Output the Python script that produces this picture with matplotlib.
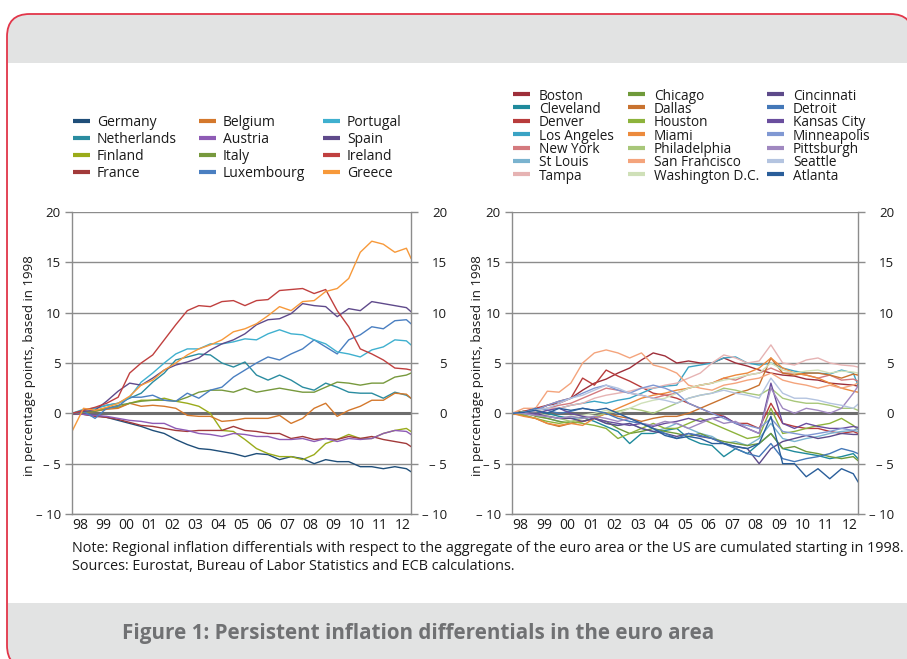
import matplotlib
matplotlib.use('Agg')
import matplotlib.pyplot as plt
from matplotlib.lines import Line2D
from matplotlib.patches import FancyBboxPatch, Rectangle

plt.rcParams['font.family'] = ['Open Sans', 'DejaVu Sans']

# sampling dates (half-yearly readings)
dates = [1998.0, 1998.5, 1999.0, 1999.5, 2000.0, 2000.5, 2001.0, 2001.5, 2002.0, 2002.5,
         2003.0, 2003.5, 2004.0, 2004.5, 2005.0, 2005.5, 2006.0, 2006.5, 2007.0, 2007.5,
         2008.0, 2008.5, 2009.0, 2009.5, 2010.0, 2010.5, 2011.0, 2011.5, 2012.0, 2012.5, 2012.7]

# ---- euro area countries ----
germany = [0.0, -0.1, -0.2, -0.4, -0.7, -1.0, -1.3, -1.7, -2.0, -2.6,
           -3.1, -3.5, -3.6, -3.8, -4.0, -4.3, -4.0, -4.1, -4.6, -4.3,
           -4.5, -5.0, -4.6, -4.8, -4.8, -5.3, -5.3, -5.5, -5.3, -5.5, -5.8]
netherlands = [0.0, 0.3, 0.5, 0.8, 1.0, 1.5, 2.0, 3.1, 4.0, 5.3,
               5.6, 5.9, 5.8, 5.0, 4.6, 5.1, 3.8, 3.3, 3.8, 3.3,
               2.6, 2.3, 3.0, 2.6, 2.1, 2.0, 2.0, 1.5, 2.1, 1.8, 1.5]
finland = [0.0, 0.1, 0.3, 0.5, 0.6, 1.0, 1.3, 1.3, 1.5, 1.2,
           1.0, 0.7, 0.0, -1.7, -1.8, -2.6, -3.5, -4.0, -4.3, -4.3,
           -4.6, -4.1, -3.0, -2.6, -2.1, -2.5, -2.5, -2.0, -1.7, -1.5, -1.8]
france = [0.0, -0.1, -0.3, -0.4, -0.6, -0.9, -1.2, -1.3, -1.5, -1.7,
          -1.8, -1.7, -1.7, -1.7, -1.3, -1.7, -1.8, -2.0, -2.0, -2.5,
          -2.3, -2.6, -2.5, -2.6, -2.3, -2.5, -2.3, -2.6, -2.8, -3.0, -3.3]
belgium = [0.0, 0.1, 0.2, 0.4, 0.5, 1.0, 0.7, 0.8, 0.7, 0.5,
           -0.2, -0.3, -0.3, -0.8, -0.7, -0.5, -0.5, -0.5, -0.2, -1.0,
           -0.5, 0.5, 1.0, -0.3, 0.3, 0.7, 1.3, 1.3, 2.0, 1.9, 1.5]
austria = [0.0, -0.1, -0.2, -0.3, -0.5, -0.7, -0.8, -1.0, -1.0, -1.5,
           -1.7, -2.0, -2.1, -2.3, -2.0, -2.1, -2.3, -2.3, -2.6, -2.6,
           -2.5, -2.8, -2.5, -2.8, -2.5, -2.6, -2.5, -2.0, -1.7, -1.8, -2.1]
italy = [0.0, 0.1, 0.2, 0.5, 0.8, 1.0, 1.2, 1.3, 1.3, 1.2,
         1.6, 2.1, 2.3, 2.3, 2.1, 2.5, 2.1, 2.3, 2.5, 2.3,
         2.1, 2.1, 2.6, 3.1, 3.0, 2.8, 3.0, 3.0, 3.6, 3.8, 4.0]
luxembourg = [0.0, 0.2, -0.5, 0.5, 0.7, 1.6, 1.6, 1.8, 1.3, 1.2,
              2.0, 1.5, 2.3, 2.6, 3.6, 4.3, 5.0, 5.6, 5.3, 5.9,
              6.4, 7.3, 6.6, 5.9, 7.3, 7.8, 8.6, 8.4, 9.2, 9.3, 8.9]
portugal = [0.0, 0.4, 0.5, 0.8, 1.0, 1.6, 3.1, 4.0, 5.0, 5.9,
            6.4, 6.4, 6.9, 6.9, 7.1, 7.4, 7.3, 7.9, 8.3, 7.9,
            7.8, 7.3, 6.9, 6.1, 5.9, 5.6, 6.3, 6.6, 7.3, 7.2, 6.8]
spain = [0.0, 0.2, 0.3, 1.2, 2.2, 3.0, 2.8, 3.5, 4.3, 4.8,
         5.1, 5.5, 6.3, 6.9, 7.3, 7.9, 8.8, 9.3, 9.4, 9.9,
         10.9, 10.7, 10.6, 9.6, 10.4, 10.2, 11.1, 10.9, 10.7, 10.5, 10.1]
ireland = [0.0, 0.3, 0.6, 1.0, 1.6, 4.0, 5.0, 5.8, 7.3, 8.8,
           10.2, 10.7, 10.6, 11.1, 11.2, 10.7, 11.2, 11.3, 12.2, 12.3,
           12.4, 11.9, 12.3, 10.2, 8.6, 6.4, 5.9, 5.3, 4.5, 4.4, 4.3]
greece = [-1.8, 0.5, 0.3, 0.6, 1.0, 1.7, 2.8, 3.3, 4.3, 5.0,
          5.8, 6.4, 6.8, 7.3, 8.1, 8.4, 8.9, 9.7, 10.6, 10.2,
          11.1, 11.2, 12.1, 12.4, 13.4, 16.0, 17.1, 16.8, 16.0, 16.4, 15.4]

# ---- US cities ----
boston = [0.0, 0.2, 0.3, 0.8, 1.0, 1.5, 2.3, 3.0, 3.4, 4.0,
          4.5, 5.3, 6.0, 5.7, 5.0, 5.2, 5.0, 5.0, 5.5, 5.0,
          4.7, 4.3, 4.0, 3.8, 3.7, 3.4, 3.3, 3.0, 2.9, 2.8, 2.7]
cleveland = [0.0, -0.1, 0.2, 0.0, -0.3, -0.5, -0.4, -0.8, -1.3, -1.8,
             -3.0, -2.0, -2.0, -1.7, -1.5, -2.5, -3.0, -3.2, -4.3, -3.5,
             -4.0, -3.0, -2.0, -3.5, -3.8, -4.0, -4.2, -4.5, -4.3, -4.0, -4.5]
denver = [0.0, 0.2, 0.5, 0.8, 1.2, 1.5, 3.5, 2.8, 4.3, 3.7,
          3.2, 2.6, 2.0, 1.8, 1.5, 1.0, 0.5, 0.0, -0.3, -1.0,
          -1.0, -1.5, 1.0, -1.0, -1.3, -1.5, -1.5, -1.8, -2.0, -1.8, -2.0]
los_angeles = [0.0, 0.0, 0.3, 0.5, 0.5, 0.8, 1.0, 1.2, 1.0, 1.3,
               1.5, 2.0, 2.5, 2.7, 2.8, 4.6, 4.8, 5.0, 5.5, 5.6,
               5.0, 4.8, 5.0, 4.5, 4.2, 4.0, 4.0, 3.9, 4.3, 4.0, 2.8]
new_york = [0.0, 0.1, 0.3, 0.5, 0.8, 1.0, 1.5, 2.0, 2.5, 2.3,
            2.0, 1.8, 1.5, 1.8, 2.0, 2.5, 2.8, 3.0, 3.5, 3.3,
            3.8, 4.0, 4.5, 4.0, 4.0, 3.8, 3.5, 3.8, 3.3, 3.4, 3.2]
st_louis = [0.0, -0.1, -0.2, -0.5, -0.8, -1.0, -0.8, -0.5, -1.0, -1.2,
            -1.0, -1.5, -1.8, -1.5, -1.0, -1.5, -2.0, -2.3, -3.0, -2.8,
            -3.2, -2.5, -1.0, -2.5, -2.8, -2.5, -2.3, -2.0, -1.8, -1.7, -1.8]
tampa = [0.0, 0.1, 0.2, 0.5, 0.5, 0.8, 1.0, 1.5, 1.8, 2.0,
         2.2, 2.5, 2.5, 2.8, 3.0, 3.5, 4.0, 5.0, 5.8, 5.5,
         5.0, 5.2, 6.8, 5.0, 4.8, 5.3, 5.5, 5.0, 4.8, 4.7, 4.6]
chicago = [0.0, 0.2, -0.3, -0.5, -0.8, -1.0, -0.8, -0.5, -0.8, -1.5,
           -2.0, -1.8, -1.5, -1.8, -2.0, -2.3, -2.0, -2.5, -2.8, -3.0,
           -3.2, -3.0, -2.0, -3.5, -3.3, -3.8, -4.0, -4.3, -4.5, -4.3, -4.7]
dallas = [0.0, -0.2, -0.5, -1.0, -1.3, -1.0, -0.8, -0.5, 0.0, -0.3,
          -0.5, -0.8, -0.5, -0.3, -0.3, 0.0, 0.5, 1.0, 1.5, 2.0,
          2.3, 2.8, 5.5, 4.0, 3.8, 4.0, 4.0, 3.8, 3.5, 3.9, 3.8]
houston = [0.0, -0.2, -0.5, -0.8, -1.0, -0.8, -1.0, -1.2, -1.5, -2.5,
           -2.0, -1.5, -1.0, -1.5, -1.5, -1.0, -0.5, -1.0, -1.5, -2.0,
           -2.5, -2.3, 0.5, -2.0, -1.8, -1.5, -1.2, -1.0, -0.5, -1.2, -1.6]
miami = [0.0, -0.3, -0.5, -1.0, -1.2, -1.0, -1.2, -0.5, 0.0, 0.5,
         1.0, 1.5, 1.8, 2.0, 2.3, 2.5, 2.8, 3.0, 3.5, 3.8,
         4.0, 4.5, 5.5, 4.5, 4.0, 3.8, 3.5, 3.0, 2.5, 2.2, 2.1]
philadelphia = [0.0, 0.0, -0.2, -0.3, -0.5, -0.8, -0.5, -0.3, 0.0, 0.2,
                0.5, 0.3, 0.0, 0.5, 1.0, 1.5, 1.8, 2.0, 2.5, 2.3,
                2.0, 1.8, 2.5, 1.5, 1.2, 1.0, 1.0, 0.8, 0.5, 0.5, 0.3]
san_francisco = [0.0, 0.5, 0.5, 2.2, 2.1, 3.0, 5.0, 6.0, 6.3, 6.0,
                 5.5, 6.0, 4.8, 4.5, 4.0, 2.8, 2.5, 2.3, 2.8, 3.0,
                 3.3, 3.5, 4.0, 3.3, 3.0, 2.8, 2.5, 2.8, 2.5, 2.8, 3.0]
washington = [0.0, 0.1, 0.0, -0.2, -0.5, -0.3, -0.2, 0.0, 0.3, 0.0,
              0.5, 1.0, 1.3, 1.5, 2.0, 2.5, 2.8, 3.0, 3.3, 3.5,
              3.8, 4.0, 5.0, 4.3, 4.0, 4.2, 4.3, 4.0, 4.2, 4.1, 4.0]
cincinnati = [0.0, 0.1, 0.0, -0.3, -0.5, -0.5, -0.8, -0.5, -1.0, -1.2,
              -1.0, -1.5, -1.8, -2.0, -2.3, -2.0, -2.3, -2.5, -3.0, -3.3,
              -3.5, -5.0, -3.5, -2.8, -2.5, -2.2, -2.5, -2.3, -2.0, -2.1, -2.1]
detroit = [0.0, 0.1, 0.5, 0.3, 0.0, 0.2, 0.5, 0.3, 0.0, -0.5,
           -0.8, -1.0, -1.5, -2.0, -2.5, -2.0, -2.2, -2.5, -3.0, -3.5,
           -4.0, -4.3, -3.0, -4.5, -4.8, -4.5, -4.3, -4.0, -3.5, -3.8, -4.0]
kansas_city = [0.0, 0.0, -0.1, 0.3, 0.5, 0.0, -0.3, -0.5, -0.8, -1.0,
               -1.2, -1.0, -1.3, -1.0, -0.8, -0.5, -0.8, -0.5, -0.3, -1.0,
               -1.5, -2.0, 3.0, -1.0, -1.5, -1.0, -1.3, -1.5, -1.5, -1.3, -1.4]
minneapolis = [0.0, 0.1, 0.3, 0.8, 1.2, 1.5, 2.0, 2.5, 2.8, 2.3,
               2.0, 2.5, 2.8, 2.5, 2.0, 1.0, 0.5, 0.0, -0.5, -1.0,
               -1.2, -1.5, -0.5, -1.8, -2.0, -2.2, -2.0, -1.8, -1.5, -1.7, -1.5]
pittsburgh = [0.0, 0.0, -0.2, -0.3, -0.5, -0.3, -0.5, -0.3, -0.5, -0.8,
              -0.5, -1.0, -1.2, -0.8, -1.0, -1.5, -1.0, -0.5, -1.0, -0.8,
              -1.5, -2.0, 2.5, 0.5, 0.0, 0.5, 0.3, 0.0, 0.5, 2.0, 2.7]
seattle = [0.0, 0.1, 0.3, 0.5, 1.0, 1.5, 1.8, 2.3, 2.8, 2.5,
           2.0, 1.8, 1.5, 1.3, 1.0, 1.5, 1.8, 2.0, 2.3, 2.0,
           1.8, 1.5, 3.5, 2.0, 1.5, 1.5, 1.3, 1.0, 0.8, 0.5, 0.9]
atlanta = [0.0, 0.1, 0.3, 0.0, 0.5, 0.3, 0.5, 0.3, 0.5, 0.0,
           -0.5, -1.0, -1.5, -2.2, -2.5, -2.3, -2.5, -3.0, -3.0, -3.3,
           -3.5, -3.0, -0.3, -5.0, -5.0, -6.3, -5.5, -6.5, -5.5, -6.0, -6.8]

eu_names = ['Germany', 'Netherlands', 'Finland', 'France',
            'Belgium', 'Austria', 'Italy', 'Luxembourg',
            'Portugal', 'Spain', 'Ireland', 'Greece']
eu_series = [germany, netherlands, finland, france,
             belgium, austria, italy, luxembourg,
             portugal, spain, ireland, greece]
eu_colors = ['#1f4e79', '#2a8ca0', '#9aab1a', '#a23a3a',
             '#d4782c', '#8e5bb5', '#77993d', '#4a7fc1',
             '#3fb0cf', '#5f4a8b', '#c0403f', '#f7993a']

us_names = ['Boston', 'Cleveland', 'Denver', 'Los Angeles', 'New York', 'St Louis', 'Tampa',
            'Chicago', 'Dallas', 'Houston', 'Miami', 'Philadelphia', 'San Francisco', 'Washington D.C.',
            'Cincinnati', 'Detroit', 'Kansas City', 'Minneapolis', 'Pittsburgh', 'Seattle', 'Atlanta']
us_series = [boston, cleveland, denver, los_angeles, new_york, st_louis, tampa,
             chicago, dallas, houston, miami, philadelphia, san_francisco, washington,
             cincinnati, detroit, kansas_city, minneapolis, pittsburgh, seattle, atlanta]
us_colors = ['#9e2f3a', '#1f8a9c', '#b83c3c', '#3aa3c4', '#d47a7e', '#7ab3cf', '#e6b3b3',
             '#6f9a3a', '#c8722f', '#8db33c', '#ec8a3c', '#a8c77a', '#f4a47c', '#cfe0b8',
             '#5d4a8a', '#4478b8', '#6a4e9e', '#8098d3', '#a088c0', '#b4c4e0', '#2a5e9a']

year_labels = ['98', '99', '00', '01', '02', '03', '04', '05', '06', '07', '08', '09', '10', '11', '12']
y_ticks = [-10, -5, 0, 5, 10, 15, 20]
y_labels = ['\u2013 10', '\u2013 5', '0', '5', '10', '15', '20']

W, H = 907, 659
TXT = '#1a1a1a'
GRID = '#8c8c8c'


def fx(x):
    return x / W


def fy(y):
    return 1 - y / H


fig = plt.figure(figsize=(W / 100, H / 100), dpi=100)

# framed box: grey filled rounded box with red edge (right/bottom edges run off the page),
# white body laid over the middle
fig.patches.append(FancyBboxPatch((fx(7), fy(668)), fx(913) - fx(7), fy(14) - fy(668),
                                  boxstyle='round,pad=0,rounding_size=0.025', mutation_aspect=W / H,
                                  transform=fig.transFigure, fc='#e2e3e3', ec='#e2364a', lw=1.3,
                                  zorder=-3))
fig.patches.append(Rectangle((fx(8.2), fy(603)), fx(915) - fx(8.2), fy(63) - fy(603),
                             transform=fig.transFigure, fc='white', ec='none', zorder=-2))


def setup(ax):
    ax.set_xlim(1998, 2012.7)
    ax.set_ylim(-10, 20)
    ax.set_xticks([1998.35 + i for i in range(len(year_labels))])
    ax.set_xticklabels(year_labels)
    ax.set_yticks(y_ticks)
    ax.set_yticklabels(y_labels)
    ax.tick_params(axis='x', length=0, pad=3, labelsize=10, labelcolor=TXT)
    ax.tick_params(axis='y', length=5, width=1, color=GRID, pad=3, labelsize=9.5, labelcolor=TXT)
    ax.spines['top'].set_visible(False)
    for s in ['left', 'right', 'bottom']:
        ax.spines[s].set_color(GRID)
        ax.spines[s].set_linewidth(1)
    ax.grid(axis='y', color=GRID, lw=1)
    ax.set_axisbelow(True)
    ax.axhline(0, color='#6d6d6d', lw=2.2, zorder=1.5)

    tw = ax.twinx()
    tw.set_ylim(-10, 20)
    tw.set_yticks(y_ticks)
    tw.set_yticklabels(y_labels)
    tw.tick_params(axis='y', length=5, width=1, color=GRID, pad=21, labelsize=9.5, labelcolor=TXT)
    for lab in tw.get_yticklabels():
        lab.set_ha('right')
    for s in tw.spines.values():
        s.set_visible(False)


def draw_legend(names, colors, col_x, y0, dy, nrows, gap, size):
    for i, (n, c) in enumerate(zip(names, colors)):
        col, row = divmod(i, nrows)
        x = col_x[col]
        y = y0 + row * dy
        fig.add_artist(Line2D([fx(x), fx(x + 17)], [fy(y), fy(y)], color=c, lw=3,
                              solid_capstyle='butt', transform=fig.transFigure))
        fig.text(fx(x + 17 + gap), fy(y), n, ha='left', va='center_baseline',
                 fontsize=size, color=TXT)


ax1 = fig.add_axes([fx(72), fy(514), fx(411) - fx(72), fy(212) - fy(514)])
ax2 = fig.add_axes([fx(512), fy(514), fx(858) - fx(512), fy(212) - fy(514)])
setup(ax1)
setup(ax2)

for vals, c in zip(eu_series, eu_colors):
    ax1.plot(dates, vals, color=c, lw=1.0, zorder=2)
for vals, c in zip(us_series, us_colors):
    ax2.plot(dates, vals, color=c, lw=1.0, zorder=2)

draw_legend(eu_names, eu_colors, [73, 199, 323], 120.5, 17, 4, 7, 10)
draw_legend(us_names, us_colors, [513, 628, 767], 94, 13.4, 7, 9, 9.8)

ylab = 'in percentage points, based in 1998'
fig.text(fx(30), fy(366), ylab, rotation=90, ha='center', va='center', fontsize=9.5, color=TXT)
fig.text(fx(477), fy(366), ylab, rotation=90, ha='center', va='center', fontsize=9.5, color=TXT)

renderer = fig.canvas.get_renderer()


def fit_text(x, y, s, width, **kw):
    t = fig.text(fx(x), fy(y), s, fontsize=10, **kw)
    w = t.get_window_extent(renderer=renderer).width
    t.set_fontsize(10 * width / w)
    return t


note1 = ('Note: Regional inflation differentials with respect to the aggregate of the euro area '
         'or the US are cumulated starting in 1998.')
note2 = 'Sources: Eurostat, Bureau of Labor Statistics and ECB calculations.'
t1 = fit_text(72, 549, note1, 831, ha='left', va='center', color=TXT)
fig.text(fx(72), fy(567), note2, ha='left', va='center', fontsize=t1.get_fontsize(), color=TXT)

fit_text(122, 634, 'Figure 1: Persistent inflation differentials in the euro area', 594,
         ha='left', va='center', color='#707173', fontweight='bold')

plt.savefig('out.png', dpi=100)
plt.close()
